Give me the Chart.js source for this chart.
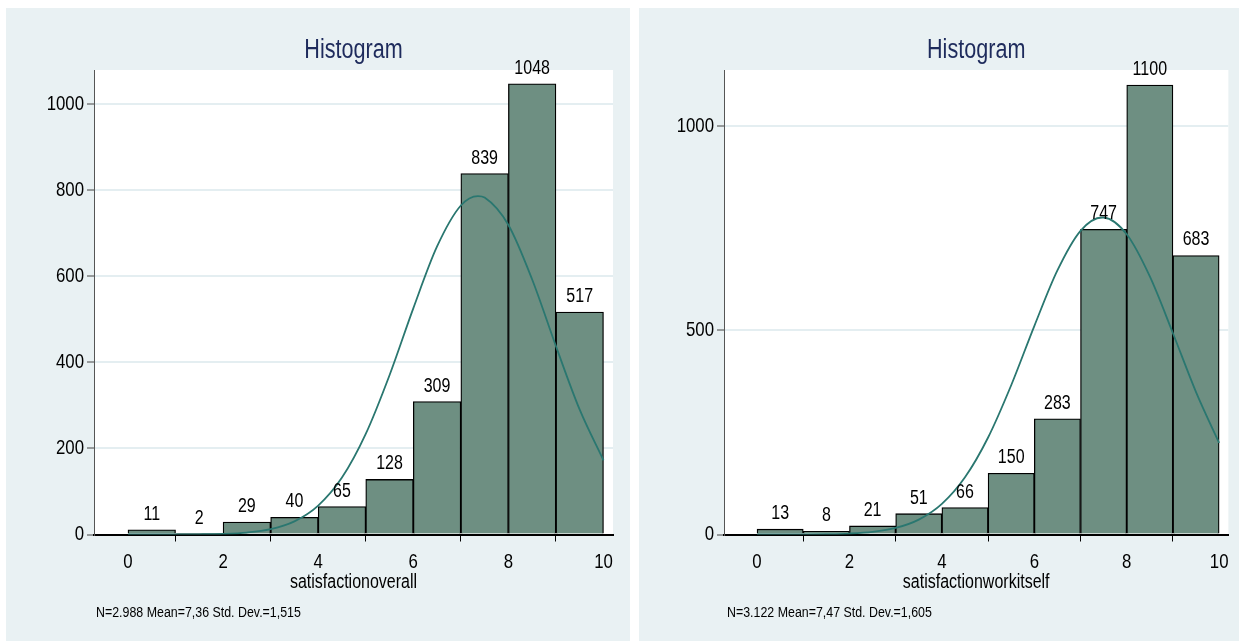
<!DOCTYPE html>
<html>
<head>
<meta charset="utf-8">
<script src="https://cdn.jsdelivr.net/npm/chart.js@4.4.1/dist/chart.umd.min.js"></script>
<style>
  html, body { margin: 0; padding: 0; background: #ffffff; width: 1239px; height: 641px; overflow: hidden; }
  .panel { position: absolute; background: #e9f1f3; }
  #p1 { left: 6px; top: 8px; width: 624px; height: 633px; }
  #p2 { left: 639px; top: 8px; width: 600px; height: 633px; }
  canvas { display: block; }
</style>
</head>
<body>
<div class="panel" id="p1"><canvas id="c1" width="624" height="633"></canvas></div>
<div class="panel" id="p2"><canvas id="c2" width="600" height="633"></canvas></div>
<script>
// Histogram bins: each bar spans [start, start + 1)
const binStarts = [0, 1, 2, 3, 4, 5, 6, 7, 8, 9];

// Frequencies per bin
const overallCounts = [11, 2, 29, 40, 65, 128, 309, 839, 1048, 517];
const workCounts    = [13, 8, 21, 51, 66, 150, 283, 747, 1100, 683];

// Normal density overlay (scaled to counts)
const overallCurveX = [0, 0.5, 1, 1.5, 2, 2.5, 3, 3.5, 4, 4.5, 5, 5.5, 6, 6.5, 7, 7.36, 7.5, 8, 8.5, 9, 9.5, 10];
const overallCurveY = [0, 0.03, 0.12, 0.44, 1.5, 4.6, 12.5, 30.6, 67.3, 132.4, 233.9, 370.4, 525.9, 669.7, 764.9, 786.8, 783.4, 719.7, 592.8, 437.9, 290.2, 172.4];
const workCurveX = [0, 0.5, 1, 1.5, 2, 2.5, 3, 3.5, 4, 4.5, 5, 5.5, 6, 6.5, 7, 7.47, 7.5, 8, 8.5, 9, 9.5, 10];
const workCurveY = [0.01, 0.06, 0.23, 0.77, 2.3, 6.4, 16.0, 36.4, 75.0, 140.1, 237.5, 365.4, 510.2, 646.5, 743.4, 776.0, 775.9, 734.8, 631.6, 492.7, 348.7, 224.0];

// Axis ticks
const xTicks = [0, 2, 4, 6, 8, 10];
const overallYTicks = [0, 200, 400, 600, 800, 1000];
const workYTicks = [0, 500, 1000];

// Text
const chartTitle = 'Histogram';
const overallVar = 'satisfactionoverall';
const workVar = 'satisfactionworkitself';
const overallNote = 'N=2.988 Mean=7,36 Std. Dev.=1,515';
const workNote = 'N=3.122 Mean=7,47 Std. Dev.=1,605';

const FONT = "'Liberation Sans', Arial, sans-serif";
const NARROW = 0.8; // horizontal squeeze giving a narrow sans look
Chart.defaults.font.family = FONT;
Chart.defaults.color = '#000';

// Every string on the canvas is set in a condensed form, anchored at its x position
function condenseText(canvas, k) {
  const ctx = canvas.getContext('2d');
  const fill = ctx.fillText.bind(ctx);
  ctx.fillText = function (text, x, y, maxWidth) {
    this.save();
    this.translate(x, y);
    this.scale(k, 1);
    if (maxWidth !== undefined) fill(text, 0, 0, maxWidth / k);
    else fill(text, 0, 0);
    this.restore();
  };
}

// Draws the white plot region, the heading, the bar value labels and the footnote
const decorPlugin = {
  id: 'decor',
  beforeDraw(chart) {
    const { ctx, chartArea: a } = chart;
    ctx.save();
    ctx.fillStyle = '#ffffff';
    ctx.fillRect(a.left, a.top, a.right - a.left, a.bottom - a.top);
    ctx.restore();
  },
  afterDatasetsDraw(chart) {
    const { ctx, chartArea: a } = chart;
    const o = chart.options.plugins.decor;
    ctx.save();
    // heading
    ctx.fillStyle = '#1e2b5c';
    ctx.font = `27px ${FONT}`;
    ctx.textAlign = 'center';
    ctx.textBaseline = 'alphabetic';
    ctx.fillText(o.title, (a.left + a.right) / 2, o.titleY);
    // value labels above bars
    const meta = chart.getDatasetMeta(0);
    const values = chart.data.datasets[0].data;
    ctx.fillStyle = '#000';
    ctx.font = `20px ${FONT}`;
    meta.data.forEach((bar, i) => {
      ctx.fillText(String(values[i].y), bar.x, bar.y - 10);
    });
    // footnote
    ctx.textAlign = 'left';
    ctx.font = `15.5px ${FONT}`;
    ctx.fillText(o.note, o.noteX, o.noteY);
    ctx.restore();
  }
};

function makeChart(canvasId, counts, curveX, curveY, yTicks, yMax, varName, note, yAxisWidth, rightPad, noteX) {
  const canvas = document.getElementById(canvasId);
  condenseText(canvas, NARROW);
  const barData = binStarts.map((s, i) => ({ x: s + 0.5, y: counts[i] }));
  const curveData = curveX.map((x, i) => ({ x: x, y: curveY[i] }));
  return new Chart(canvas, {
    type: 'bar',
    data: {
      datasets: [
        {
          type: 'bar',
          data: barData,
          backgroundColor: '#6e8f82',
          borderColor: '#000000',
          borderWidth: 1.3,
          barPercentage: 1,
          categoryPercentage: 1,
          order: 1
        },
        {
          type: 'line',
          data: curveData,
          borderColor: '#2a7770',
          borderWidth: 1.8,
          pointRadius: 0,
          fill: false,
          cubicInterpolationMode: 'monotone',
          order: 0
        }
      ]
    },
    options: {
      responsive: false,
      animation: false,
      events: [],
      layout: { padding: { left: 0, top: 62, right: rightPad, bottom: 0 } },
      plugins: {
        legend: { display: false },
        tooltip: { enabled: false },
        decor: { title: chartTitle, titleY: 50, note: note, noteX: noteX, noteY: 608.5 }
      },
      scales: {
        x: {
          type: 'linear',
          min: -0.715,
          max: 10.2,
          offset: false,
          afterBuildTicks: (s) => { s.ticks = xTicks.map(v => ({ value: v })); },
          afterFit: (s) => { s.height = 106.5; },
          grid: { drawOnChartArea: false, tickColor: '#000', tickLength: 7, lineWidth: 1 },
          border: { display: true, color: '#000', width: 2 },
          ticks: { font: { size: 21 }, color: '#000', padding: 8, autoSkip: false, maxRotation: 0, callback: (v) => String(v) },
          title: { display: true, text: varName, font: { size: 20 }, color: '#000', padding: { top: 0, bottom: 47 } }
        },
        y: {
          type: 'linear',
          min: 0,
          max: yMax,
          afterBuildTicks: (s) => { s.ticks = yTicks.map(v => ({ value: v })); },
          afterFit: (s) => { s.width = yAxisWidth; },
          grid: { color: '#e4eef1', lineWidth: 2, tickColor: '#444', tickLength: 7, tickWidth: 1 },
          border: { display: true, color: '#555', width: 1 },
          ticks: { font: { size: 21 }, color: '#000', padding: 3, callback: (v) => String(v) }
        }
      }
    },
    plugins: [decorPlugin]
  });
}

makeChart('c1', overallCounts, overallCurveX, overallCurveY, overallYTicks, 1080, overallVar, overallNote, 88, 17, 90);
makeChart('c2', workCounts, workCurveX, workCurveY, workYTicks, 1137, workVar, workNote, 85, 10, 88);
</script>
</body>
</html>
